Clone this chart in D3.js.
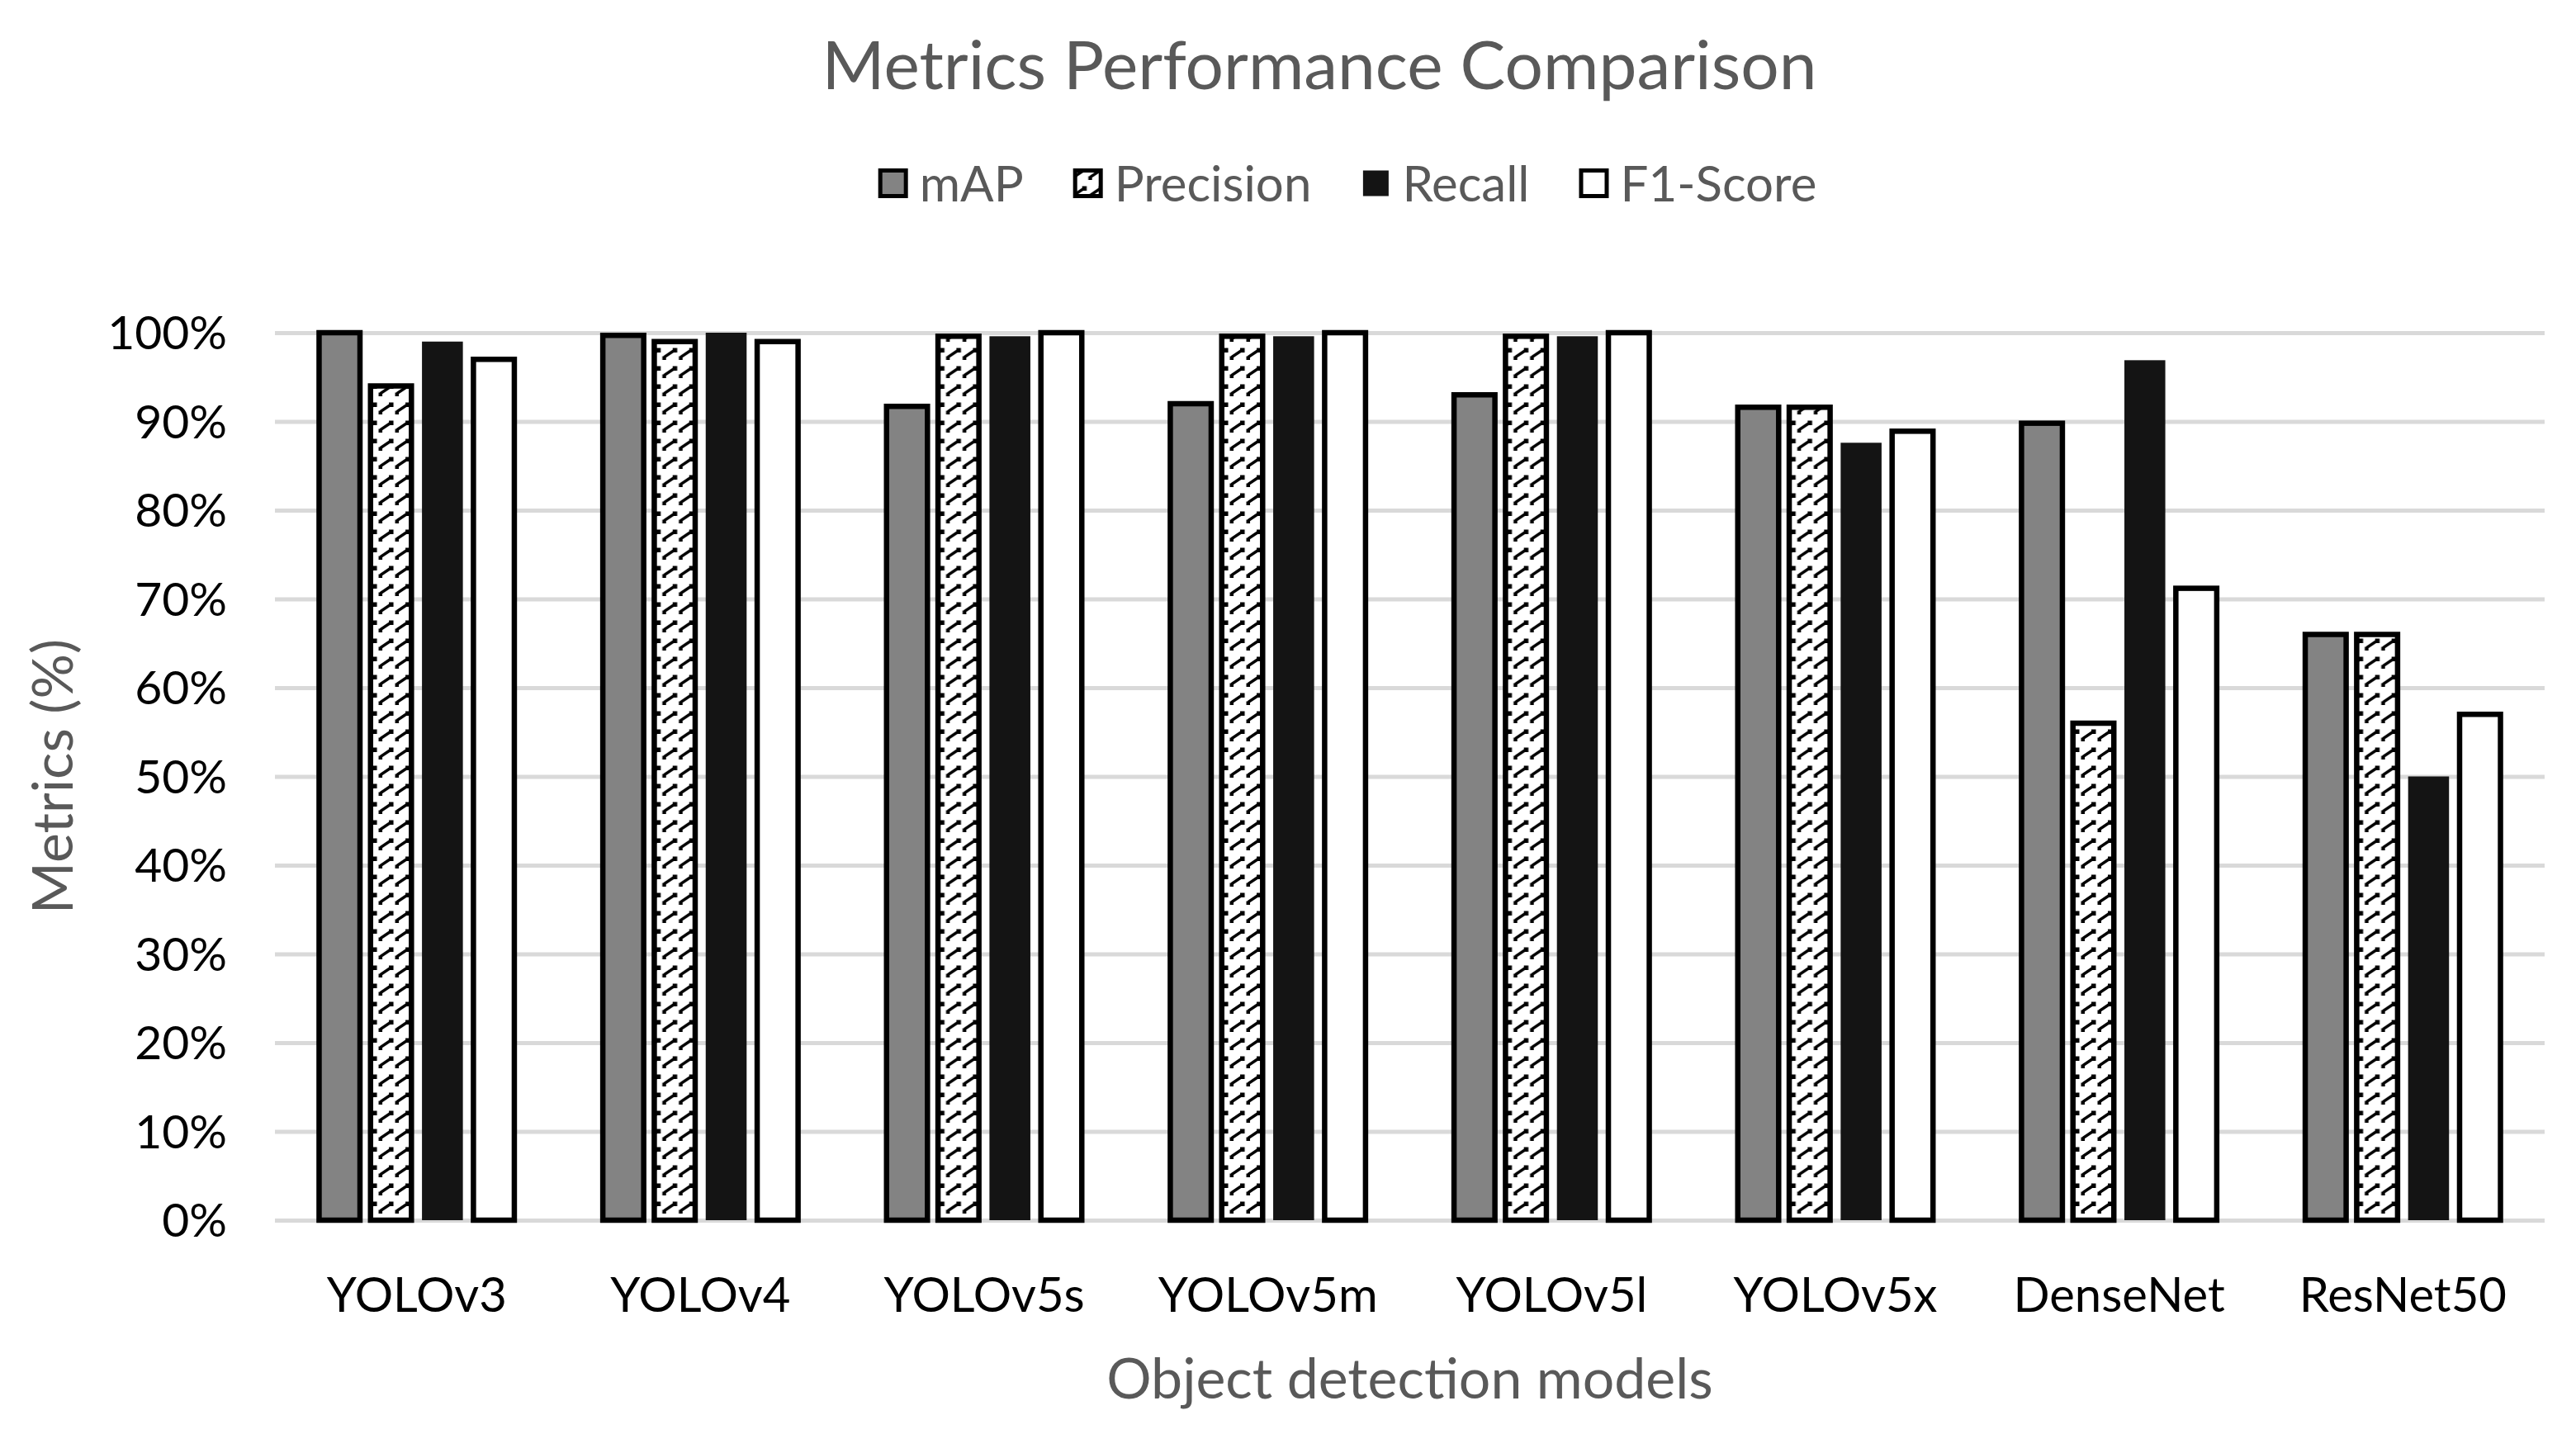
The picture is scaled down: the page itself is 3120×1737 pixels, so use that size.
<!DOCTYPE html>
<html>
<head>
<meta charset="utf-8">
<script src="https://cdn.jsdelivr.net/npm/d3@7"></script>
<style>
  body { margin: 0; background: #fff; }
  text { font-family: Lato, "Open Sans", sans-serif; }
</style>
</head>
<body>
<svg id="chart" width="3120" height="1737"></svg>
<script>
// ---- data ----
const categories = ["YOLOv3", "YOLOv4", "YOLOv5s", "YOLOv5m", "YOLOv5l", "YOLOv5x", "DenseNet", "ResNet50"];
const seriesNames = ["mAP", "Precision", "Recall", "F1-Score"];
const mAPValues       = [100, 99.7, 91.7, 92.0, 93.0, 91.6, 89.8, 66.0];
const precisionValues = [94.0, 99.0, 99.6, 99.6, 99.6, 91.6, 56.0, 66.0];
const recallValues    = [99.0, 100, 99.6, 99.6, 99.6, 87.6, 96.9, 50.0];
const f1Values        = [97.0, 99.0, 100, 100, 100, 88.9, 71.2, 57.0];
const yTickValues = [0, 10, 20, 30, 40, 50, 60, 70, 80, 90, 100];
const chartTitle = "Metrics Performance Comparison";
const xTitle = "Object detection models";
const yTitle = "Metrics (%)";

const seriesValues = [mAPValues, precisionValues, recallValues, f1Values];
const rows = categories.map((c, i) => ({
  cat: c,
  vals: seriesNames.map((s, k) => ({ series: s, value: seriesValues[k][i] }))
}));

// ---- layout ----
const W = 3120, H = 1737;
const plotLeft = 333, plotRight = 3082, plotTop = 403, plotBottom = 1478;

const svg = d3.select("#chart");
svg.append("rect").attr("width", W).attr("height", H).attr("fill", "#fff");

const defs = svg.append("defs");
const hatch = defs.append("pattern")
  .attr("id", "hatch").attr("patternUnits", "userSpaceOnUse")
  .attr("width", 20).attr("height", 22);
hatch.append("rect").attr("width", 20).attr("height", 22).attr("fill", "#fff");
hatch.append("path").attr("d", "M0,15 L12,7").attr("stroke", "#000").attr("stroke-width", 3.5);
hatch.append("rect").attr("x", 11).attr("y", 3.5).attr("width", 5.5).attr("height", 5.5).attr("fill", "#000");
hatch.append("rect").attr("x", -1.5).attr("y", 13.5).attr("width", 4.5).attr("height", 4.5).attr("fill", "#000");
hatch.append("rect").attr("x", 18.5).attr("y", 13.5).attr("width", 4.5).attr("height", 4.5).attr("fill", "#000");

const styles = {
  "mAP":       { fill: "#838383", stroke: "#000", sw: 6.5 },
  "Precision": { fill: "url(#hatch)", stroke: "#000", sw: 6.5 },
  "Recall":    { fill: "#141414", stroke: "none", sw: 0 },
  "F1-Score":  { fill: "#fff", stroke: "#000", sw: 6.5 }
};

const x0 = d3.scaleBand().domain(categories).range([plotLeft, plotRight])
  .paddingInner(0.2747).paddingOuter(0.137);
const x1 = d3.scaleBand().domain(seriesNames).range([0, x0.bandwidth()])
  .paddingInner(0.205).paddingOuter(0.1025);
const y = d3.scaleLinear().domain([0, 100]).range([plotBottom, plotTop]);

// gridlines
const grid = svg.append("g").attr("transform", `translate(${plotLeft},0)`)
  .call(d3.axisLeft(y).tickValues(yTickValues).tickSize(-(plotRight - plotLeft)).tickFormat(""));
grid.select(".domain").remove();
grid.selectAll("line").attr("stroke", "#d9d9d9").attr("stroke-width", 5);

// y tick labels
const yAxis = svg.append("g").attr("transform", `translate(275,0)`)
  .call(d3.axisLeft(y).tickValues(yTickValues).tickSize(0).tickPadding(0).tickFormat(d => d + "%"));
yAxis.select(".domain").remove();
yAxis.selectAll("text").attr("font-size", 57).attr("fill", "#000")
  .attr("font-family", "Lato, 'Open Sans', sans-serif").attr("dy", "0.35em");

// bars
const groups = svg.append("g").selectAll("g").data(rows).join("g")
  .attr("transform", d => `translate(${x0(d.cat)},0)`);
groups.selectAll("rect").data(d => d.vals).join("rect")
  .attr("x", d => x1(d.series))
  .attr("width", x1.bandwidth())
  .attr("y", d => y(d.value))
  .attr("height", d => y(0) - y(d.value))
  .attr("fill", d => styles[d.series].fill)
  .attr("stroke", d => styles[d.series].stroke)
  .attr("stroke-width", d => styles[d.series].sw);

// x category labels
const xAxis = svg.append("g").attr("transform", `translate(0,${plotBottom})`)
  .call(d3.axisBottom(x0).tickSize(0).tickPadding(0));
xAxis.select(".domain").remove();
xAxis.selectAll("text").attr("font-size", 58).attr("fill", "#000")
  .attr("font-family", "Lato, 'Open Sans', sans-serif")
  .attr("y", 0).attr("dy", 111);

// titles
svg.append("text").attr("x", 1598).attr("y", 108).attr("text-anchor", "middle")
  .attr("font-size", 82).attr("fill", "#595959").text(chartTitle);
svg.append("text").attr("x", (plotLeft + plotRight) / 2).attr("y", 1694).attr("text-anchor", "middle")
  .attr("font-size", 68).attr("fill", "#595959").text(xTitle);
svg.append("text").attr("transform", `translate(64,${(plotTop + plotBottom) / 2}) rotate(-90)`)
  .attr("text-anchor", "middle").attr("dy", "0.35em")
  .attr("font-size", 68).attr("fill", "#595959").text(yTitle);

// legend
const legend = svg.append("g");
const items = legend.selectAll("g").data(seriesNames).join("g");
items.append("rect").attr("x", 2.5).attr("y", -15.5).attr("width", 31).attr("height", 31)
  .attr("fill", d => styles[d].fill)
  .attr("stroke", "#000").attr("stroke-width", d => d === "Recall" ? 0 : 5);
items.append("text").attr("x", 50).attr("dy", "0.36em")
  .attr("font-size", 60).attr("fill", "#595959").text(d => d);
const gap = 60;
const widths = [];
items.each(function () { widths.push(50 + this.querySelector("text").getComputedTextLength()); });
const total = d3.sum(widths) + gap * (widths.length - 1);
let start = 1632 - total / 2;
items.attr("transform", (d, i) => {
  const t = `translate(${start},222)`;
  start += widths[i] + gap;
  return t;
});
</script>
</body>
</html>
